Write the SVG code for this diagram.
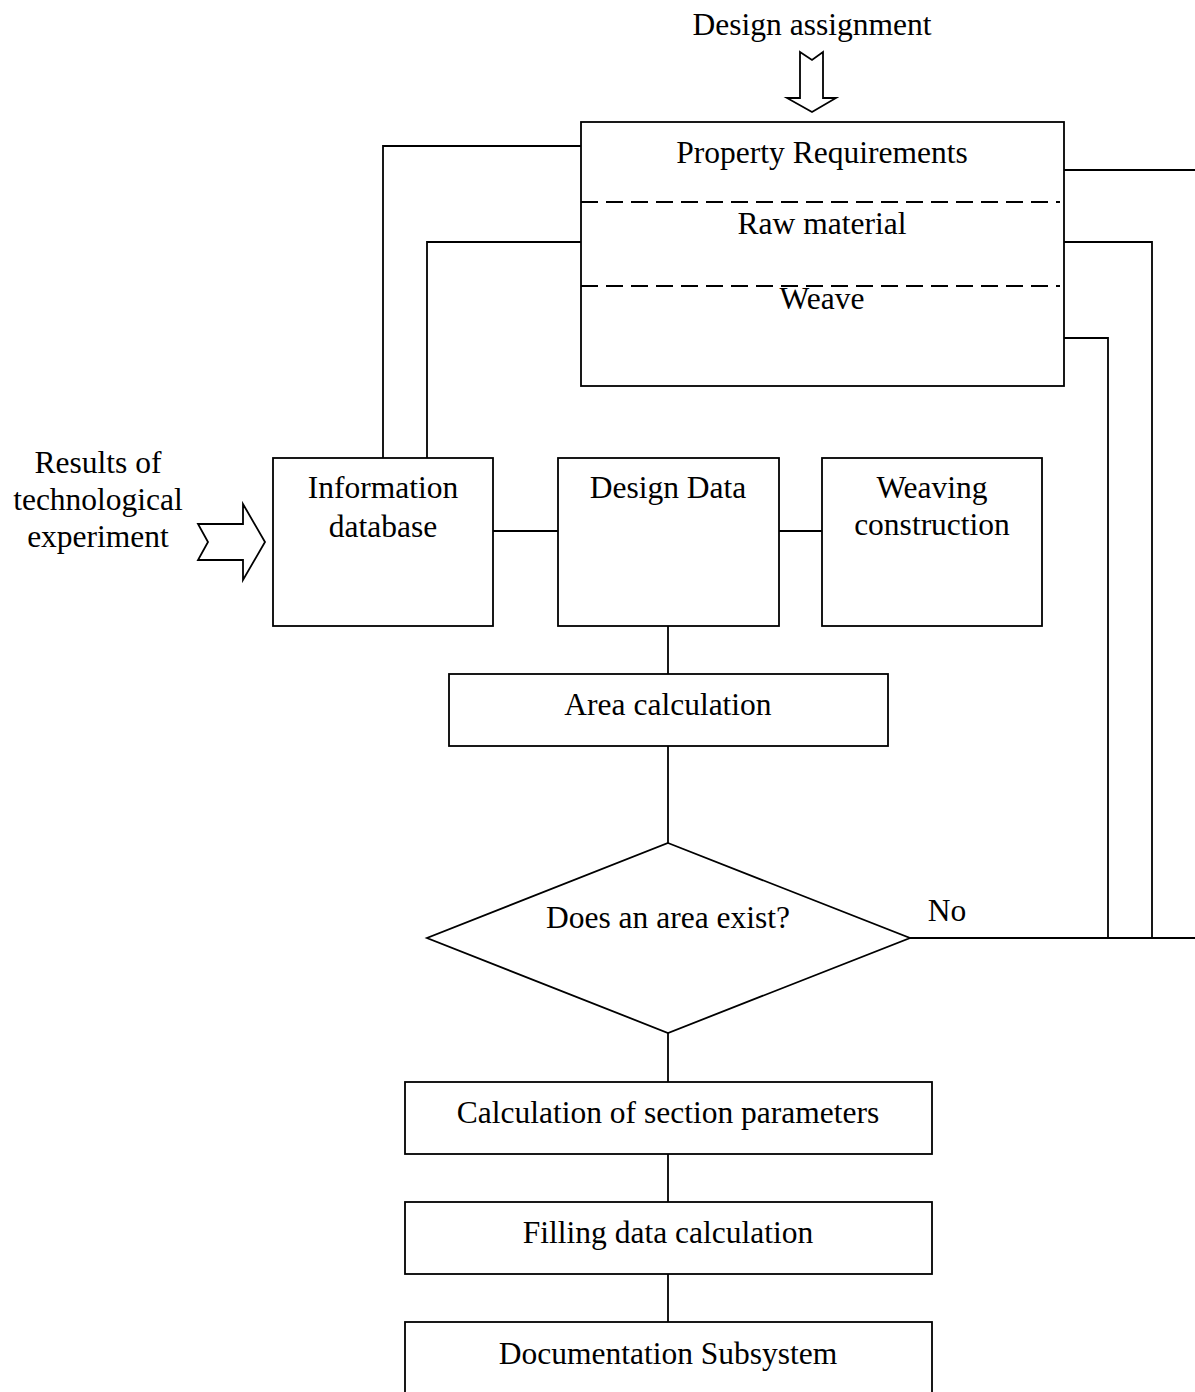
<svg xmlns="http://www.w3.org/2000/svg" width="1195" height="1392" viewBox="0 0 1195 1392">
<style>
.box{fill:#fff;stroke:#000;stroke-width:1.8}
.ln{fill:none;stroke:#000;stroke-width:1.8}
.dash{fill:none;stroke:#000;stroke-width:1.8;stroke-dasharray:17 8}
text{font-family:"Liberation Serif","Times New Roman",serif;font-size:31.5px;fill:#000;text-anchor:middle}
</style>
<rect width="1195" height="1392" fill="#fff"/>
<g id="connectors">
<polyline class="ln" points="581,146 383,146 383,458"/>
<polyline class="ln" points="581,242 427,242 427,458"/>
<line class="ln" x1="1064" y1="170" x2="1195" y2="170"/>
<polyline class="ln" points="1064,242 1152,242 1152,938"/>
<polyline class="ln" points="1064,338 1108,338 1108,938"/>
<line class="ln" x1="910" y1="938" x2="1195" y2="938"/>
<line class="ln" x1="493" y1="531" x2="558" y2="531"/>
<line class="ln" x1="779" y1="531" x2="822" y2="531"/>
<line class="ln" x1="668" y1="626" x2="668" y2="674"/>
<line class="ln" x1="668" y1="746" x2="668" y2="843"/>
<line class="ln" x1="668" y1="1033" x2="668" y2="1082"/>
<line class="ln" x1="668" y1="1154" x2="668" y2="1202"/>
<line class="ln" x1="668" y1="1274" x2="668" y2="1322"/>
<text x="947" y="921">No</text>
</g>
<g id="design-assignment">
<text x="812" y="35">Design assignment</text>
<polygon class="box" points="800,52 812,60 823,52 823,98 836,98 812,112 787,98 800,98"/>
</g>
<g id="results-input">
<text x="98" y="473">Results of</text>
<text x="98" y="510">technological</text>
<text x="98" y="547">experiment</text>
<polygon class="box" points="198,524 243,524 243,504 265,542 243,580 243,560 198,560 208,542"/>
</g>
<g id="requirements">
<rect class="box" x="581" y="122" width="483" height="264"/>
<line class="dash" x1="581" y1="202" x2="1060" y2="202"/>
<line class="dash" x1="581" y1="286" x2="1060" y2="286"/>
<text x="822" y="163">Property Requirements</text>
<text x="822" y="234">Raw material</text>
<text x="822" y="309">Weave</text>
</g>
<g id="info-db">
<rect class="box" x="273" y="458" width="220" height="168"/>
<text x="383" y="498">Information</text>
<text x="383" y="537">database</text>
</g>
<g id="design-data">
<rect class="box" x="558" y="458" width="221" height="168"/>
<text x="668" y="498">Design Data</text>
</g>
<g id="weaving">
<rect class="box" x="822" y="458" width="220" height="168"/>
<text x="932" y="498">Weaving</text>
<text x="932" y="535">construction</text>
</g>
<g id="area-calc">
<rect class="box" x="449" y="674" width="439" height="72"/>
<text x="668" y="715">Area calculation</text>
</g>
<g id="decision">
<polygon class="box" points="668,843 910,938 668,1033 427,938"/>
<text x="668" y="928">Does an area exist?</text>
</g>
<g id="section-params">
<rect class="box" x="405" y="1082" width="527" height="72"/>
<text x="668" y="1123">Calculation of section parameters</text>
</g>
<g id="filling">
<rect class="box" x="405" y="1202" width="527" height="72"/>
<text x="668" y="1243">Filling data calculation</text>
</g>
<g id="documentation">
<rect class="box" x="405" y="1322" width="527" height="80"/>
<text x="668" y="1364">Documentation Subsystem</text>
</g>
</svg>
